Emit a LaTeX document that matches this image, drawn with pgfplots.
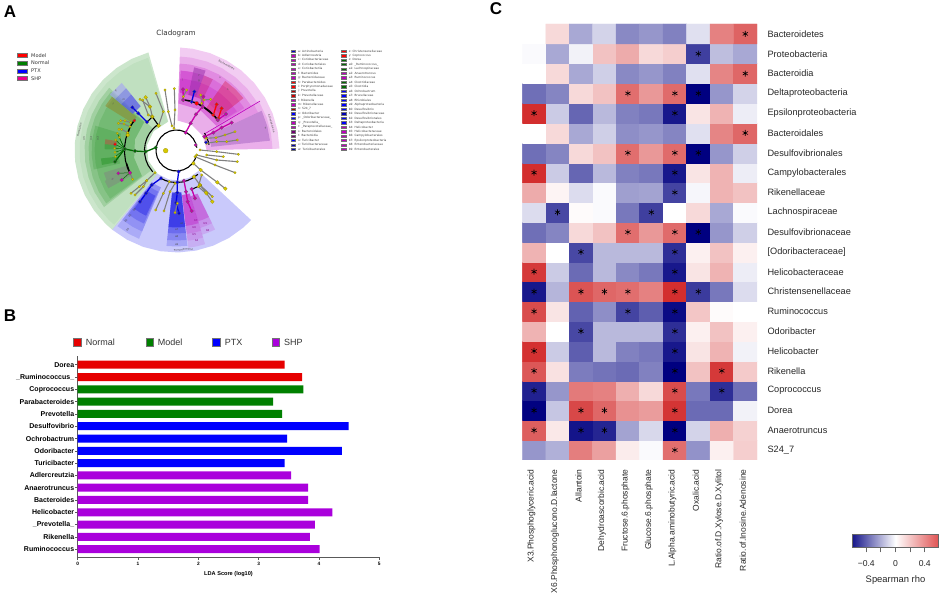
\documentclass[border=0pt]{standalone}
\usepackage{fontspec}
\setmainfont{Liberation Sans}
\newfontfamily\dv{DejaVu Sans}
\usepackage{pgfplots}
\pgfplotsset{compat=1.18}
\usepgfplotslibrary{polar}
\newcommand\fs[1]{\fontsize{#1}{#1}\selectfont}
\definecolor{cgreen}{RGB}{0,128,0}
\definecolor{cblue}{RGB}{40,40,240}
\definecolor{cmag}{RGB}{190,0,190}
\definecolor{ynode}{RGB}{214,200,0}
\definecolor{dgreen}{RGB}{0,105,0}
\definecolor{nblue}{RGB}{0,0,225}
\definecolor{nmag}{RGB}{200,0,170}
\definecolor{barred}{RGB}{230,0,0}
\definecolor{bargreen}{RGB}{0,128,0}
\definecolor{barblue}{RGB}{0,0,255}
\definecolor{barpur}{RGB}{170,0,220}
\pgfplotsset{
  colormap={rho}{rgb255=(0,0,128) rgb255=(255,255,255) rgb255=(208,32,32)},
  colormap={rhobar}{rgb255=(25,25,140) rgb255=(255,255,255) rgb255=(224,84,84)},
  sec/.style n args={2}{draw=none,fill=#1,fill opacity=#2,forget plot},
  arc/.style={black,line width=1.1pt,no markers,forget plot},
  stick/.style={draw=black!50,line width=1.1pt,mark=*,mark size=1.25pt,mark options={fill=ynode,draw=ynode!70!black,line width=.2pt},forget plot},
  sbig/.style={stick,mark size=1.9pt},
  blk/.style={draw=black,line width=1pt,no markers,forget plot},
  fan/.style={draw=dgreen,line width=0.5pt,mark=*,mark size=1.1pt,mark options={fill=ynode,draw=ynode!70!black,line width=.2pt},forget plot},
  clade/.style n args={2}{draw=#1,line width=1.3pt,mark=*,mark size=1.9pt,mark options={fill=#2,draw=black!60,line width=.2pt},forget plot},
}
\newcommand\sw[5]{\addplot[only marks,forget plot,mark=square*,mark size=#4pt,mark options={xscale=#5,fill=#1,draw=black!55,line width=.25pt}] coordinates {(#2,#3)};}
\newcommand\lgd[4]{\sw{#1}{#2}{#3}{1.2}{1.9}\node[anchor=west,inner sep=0pt,text=black!75] at (axis cs:#2+5,#3) {\dv\fs{2.9}#4};}
\newcommand\lab[4][0]{\node[rotate=#1,inner sep=0pt,text=#2] at (axis cs:#3) {\dv\fs{2.6}#4};}
\begin{document}
\begin{tikzpicture}[x=1pt,y=1pt]
\useasboundingbox (0,0) rectangle (942,596);

% panel A, wedges in polar coordinates (angle, radius in px)
\begin{polaraxis}[scale only axis,width=206pt,height=206pt,at={(176.5pt,445.5pt)},anchor=center,
  hide axis,xmin=0,xmax=360,ymin=0,ymax=103,clip=false]
% green, Firmicutes
\addplot[sec={cgreen}{.2}] coordinates {(106,102)(116,102)(126,102)(136,102)(146,102)(156,102)(166,102)(176,102)(186,102)(196,102)(206,102)(216,102)(226,102)(231,102)(231,30)(200,30)(170,30)(140,30)(106,30)} --cycle;
\addplot[sec={cgreen}{.06}] coordinates {(107,97)(116,97)(126,97)(136,97)(146,97)(156,97)(166,97)(176,97)(186,97)(196,97)(206,97)(216,97)(226,97)(230,97)(230,30)(200,30)(170,30)(140,30)(107,30)} --cycle;
\addplot[sec={cgreen}{.16}] coordinates {(137,92)(147,92)(157,92)(167,92)(177,92)(187,92)(197,92)(207,92)(218,92)(218,33)(190,33)(165,33)(137,33)} --cycle;
\addplot[sec={cgreen}{.16}] coordinates {(138,88)(148,88)(158,88)(168,88)(178,88)(188,88)(198,88)(208,88)(217,88)(217,43)(190,43)(165,43)(138,43)} --cycle;
\addplot[sec={cgreen}{.14}] coordinates {(139,82)(149,82)(159,82)(169,82)(179,82)(189,82)(199,82)(209,82)(216,82)(216,43)(190,43)(165,43)(139,43)} --cycle;
\addplot[sec={cgreen}{.16}] coordinates {(163,85)(173,85)(183,85)(193,85)(193,58)(183,58)(173,58)(163,58)} --cycle;
\addplot[sec={olive!70!gray}{.55}] coordinates {(140,84)(148,84)(148,52)(140,52)} --cycle;
\addplot[sec={red!60!gray}{.4}] coordinates {(171,72)(175,72)(175,60)(171,60)} --cycle;
\addplot[sec={cgreen}{.25}] coordinates {(175,72)(179,72)(179,60)(175,60)} --cycle;
\addplot[sec={cgreen}{.3}] coordinates {(186,76)(191,76)(191,60)(186,60)} --cycle;
\addplot[sec={gray}{.45}] coordinates {(197,76)(203,76)(203,52)(197,52)} --cycle;
\addplot[sec={gray}{.45}] coordinates {(203,78)(209,78)(209,52)(203,52)} --cycle;
\addplot[sec={white}{.5}] coordinates {(129,87)(140,87)(140,57)(129,57)} --cycle;
\addplot[sec={nblue}{.22}] coordinates {(129,87)(140,87)(140,57)(129,57)} --cycle;
\addplot[sec={nblue}{.18}] coordinates {(129,80)(140,80)(140,57)(129,57)} --cycle;
\addplot[sec={nblue}{.2}] coordinates {(129,72)(140,72)(140,57)(129,57)} --cycle;
% pink, Bacteroidetes and Actinobacteria
\addplot[sec={cmag}{.2}] coordinates {(1,103)(11,103)(21,103)(31,103)(41,103)(51,103)(61,103)(71,103)(81,103)(88,103)(88,30)(60,30)(30,30)(1,30)} --cycle;
\addplot[sec={cmag}{.15}] coordinates {(31,94)(41,94)(51,94)(61,94)(71,94)(81,94)(88,94)(88,30)(60,30)(31,30)} --cycle;
\addplot[sec={cmag}{.2}] coordinates {(31,87)(41,87)(51,87)(61,87)(71,87)(81,87)(88,87)(88,47)(60,47)(31,47)} --cycle;
\addplot[sec={cmag}{.2}] coordinates {(32,80)(42,80)(52,80)(62,80)(72,80)(82,80)(87,80)(87,47)(60,47)(32,47)} --cycle;
\addplot[sec={cmag}{.22}] coordinates {(33,72)(43,72)(53,72)(63,72)(73,72)(83,72)(87,72)(87,58)(60,58)(33,58)} --cycle;
\addplot[sec={red!85!blue}{.32}] coordinates {(38,85)(46,85)(55,85)(55,50)(46,50)(38,50)} --cycle;
\addplot[sec={red!75!blue}{.25}] coordinates {(63,80)(70,80)(70,57)(63,57)} --cycle;
\addplot[sec={blue!55!red}{.35}] coordinates {(70,85)(78,85)(78,57)(70,57)} --cycle;
\addplot[sec={cmag}{.22}] coordinates {(78,80)(87,80)(87,58)(78,58)} --cycle;
\addplot[sec={cmag}{.15}] coordinates {(1,96)(10,96)(20,96)(31,96)(31,30)(20,30)(10,30)(1,30)} --cycle;
\addplot[sec={cmag}{.15}] coordinates {(25,90)(31,90)(31,40)(25,40)} --cycle;
\addplot[sec={white}{.25}] coordinates {(6,94)(15,94)(25,94)(25,35)(15,35)(6,35)} --cycle;
\addplot[sec={blue!60!red}{.3}] coordinates {(6,94)(15,94)(25,94)(25,35)(15,35)(6,35)} --cycle;
\addplot[draw=cmag,line width=.6pt,no markers,forget plot] coordinates {(30.6,33)(30.6,97)};
% blue, Proteobacteria
\addplot[sec={cblue}{.25}] coordinates {(231,102)(241,102)(251,102)(261,102)(271,102)(281,102)(291,102)(301,102)(311,102)(317,102)(317,30)(295,30)(275,30)(255,30)(231,30)} --cycle;
\addplot[sec={nblue}{.15}] coordinates {(232,96)(240,96)(247,96)(247,40)(240,40)(232,40)} --cycle;
\addplot[sec={nblue}{.15}] coordinates {(232,88)(240,88)(247,88)(247,40)(240,40)(232,40)} --cycle;
\addplot[sec={nblue}{.2}] coordinates {(233,80)(240,80)(246,80)(246,45)(240,45)(233,45)} --cycle;
\addplot[sec={nblue}{.3}] coordinates {(234,72)(240,72)(245,72)(245,50)(240,50)(234,50)} --cycle;
\addplot[sec={nblue}{.18}] coordinates {(264,96)(270,96)(276.5,96)(276.5,42)(264,42)} --cycle;
\addplot[sec={nblue}{.18}] coordinates {(264,90)(270,90)(276.5,90)(276.5,42)(264,42)} --cycle;
\addplot[sec={nblue}{.2}] coordinates {(264,83)(270,83)(276.5,83)(276.5,42)(264,42)} --cycle;
\addplot[sec={nblue}{.42}] coordinates {(264,77)(270,77)(276.5,77)(276.5,43)(264,43)} --cycle;
\addplot[sec={cmag}{.13}] coordinates {(277,98)(282,98)(287,98)(287,45)(277,45)} --cycle;
\addplot[sec={cmag}{.13}] coordinates {(277,91)(282,91)(287,91)(287,45)(277,45)} --cycle;
\addplot[sec={cmag}{.16}] coordinates {(277,84)(282,84)(287,84)(287,45)(277,45)} --cycle;
\addplot[sec={cmag}{.32}] coordinates {(277,76)(282,76)(287,76)(287,45)(277,45)} --cycle;
\addplot[sec={cmag}{.15}] coordinates {(287,88)(291,88)(296,88)(296,48)(287,48)} --cycle;
\addplot[sec={cmag}{.15}] coordinates {(287,81)(291,81)(296,81)(296,48)(287,48)} --cycle;
\addplot[sec={cmag}{.25}] coordinates {(287,74)(291,74)(296,74)(296,48)(287,48)} --cycle;
% black arcs of the tree
\addplot[arc] coordinates {(8,20.5)(20,20.5)(35,20.5)(50,20.5)(65,20.5)(80,20.5)(95,20.5)(110,20.5)(125,20.5)(140,20.5)(155,20.5)(170,20.5)(185,20.5)(200,20.5)(215,20.5)(230,20.5)(245,20.5)(260,20.5)(275,20.5)(290,20.5)(305,20.5)(320,20.5)(335,20.5)(350,20.5)};
\addplot[arc] coordinates {(128,32)(138,32)(148,32)(158,32)(168,32)(178,32)(188,32)(198,32)(208,32)(222,32)};
\addplot[arc] coordinates {(143,52)(151,52)(159,52)(167,52)(175,52)(183,52)(191,52)(199,52)(206,52)};
\addplot[arc] coordinates {(240,32)(250,32)(260,32)(270,32)(280,32)(290,32)(300,32)(312,32)};
\addplot[arc] coordinates {(35,51.5)(43,51.5)(51,51.5)(59,51.5)(67,51.5)(75,51.5)(84,51.5)};
\addplot[arc] coordinates {(10,33)(16,33)(22,33)(32,33)};
\end{polaraxis}

% panel A, tree branches, in 3x crop coordinates
\begin{axis}[scale only axis,width=280pt,height=290pt,at={(0pt,306pt)},anchor=south west,
  hide axis,xmin=0,xmax=840,ymin=0,ymax=870,y dir=reverse,clip=false]
\addplot[stick] coordinates {(516,378)(505,335)(495,270)};
\addplot[stick] coordinates {(522,385)(525,330)(523,266)};
\addplot[stick] coordinates {(476,377)(490,335)(468,280)};
\addplot[sbig] coordinates {(476,377)(457,350)(450,320)(437,292)};
\addplot[stick] coordinates {(457,350)(445,345)(428,300)};
\addplot[stick] coordinates {(450,320)(420,298)};
\addplot[blk] coordinates {(440,368)(457,350)(476,377)};
\addplot[clade={nblue}{nblue}] coordinates {(441,366)(415,340)(397,322)};
\addplot[blk] coordinates {(403,362)(390,380)(383,405)};
\addplot[only marks,mark=*,mark size=1.6pt,mark options={fill=red,draw=black!60,line width=.2pt},forget plot] coordinates {(403,362)};
\addplot[stick] coordinates {(390,380)(372,372)(355,370)};
\addplot[stick] coordinates {(383,398)(365,388)(357,388)};
\addplot[stick] coordinates {(392,368)(375,362)(362,362)};
\addplot[sbig] coordinates {(383,405)(383,405)};
% green spine and fan
\addplot[fan] coordinates {(374,447)(345,433)};
\addplot[fan] coordinates {(374,447)(347,420)};
\addplot[fan] coordinates {(374,447)(344,445)};
\addplot[fan] coordinates {(374,447)(345,457)};
\addplot[fan] coordinates {(374,447)(346,470)};
\addplot[fan] coordinates {(374,447)(352,400)};
\addplot[fan] coordinates {(374,447)(358,412)};
\addplot[only marks,mark=*,mark size=1.8pt,mark options={fill=red,draw=black!60,line width=.2pt},forget plot] coordinates {(345,433)};
\addplot[clade={dgreen}{dgreen}] coordinates {(374,447)(345,485)};
\addplot[clade={dgreen}{dgreen}] coordinates {(467,443)(437,455)(405,453)(374,447)};
\addplot[only marks,mark=*,mark size=2.4pt,mark options={fill=ynode,draw=ynode!70!black,line width=.2pt},forget plot] coordinates {(497,452)};
\addplot[blk] coordinates {(380,490)(390,518)};
\addplot[stick] coordinates {(390,518)(398,538)};
\addplot[only marks,mark=*,mark size=1.9pt,mark options={fill=ynode,draw=ynode!70!black,line width=.2pt},forget plot] coordinates {(390,518)};
\addplot[draw=dgreen,line width=.5pt,mark=*,mark size=1.7pt,mark options={fill=nmag,draw=black!60,line width=.2pt},forget plot] coordinates {(390,518)(355,520)};
\addplot[draw=dgreen,line width=.5pt,mark=*,mark size=1.9pt,mark options={fill=nmag,draw=black!60,line width=.2pt},forget plot] coordinates {(390,518)(365,540)};
% bottom
\addplot[clade={nblue}{nblue}] coordinates {(536,515)(532,547)(532,578)(528,608)(537,640)};
\addplot[clade={nmag}{nmag}] coordinates {(552,542)(558,575)(563,605)(575,633)};
\addplot[clade={nblue}{nblue}] coordinates {(483,535)(455,555)(438,580)(420,605)};
\addplot[stick] coordinates {(465,518)(440,542)(418,560)(393,580)};
\addplot[stick] coordinates {(440,542)(430,560)(405,585)};
\addplot[stick] coordinates {(508,545)(490,580)(467,630)};
\addplot[stick] coordinates {(525,550)(510,575)(492,633)};
\addplot[stick] coordinates {(532,610)(525,638)};
\addplot[clade={nmag}{nmag}] coordinates {(575,567)(585,595)};
\addplot[sbig] coordinates {(582,530)(600,555)(618,578)(637,605)};
\addplot[stick] coordinates {(600,555)(637,590)};
\addplot[blk] coordinates {(575,568)(605,555)};
\addplot[stick] coordinates {(605,525)(595,560)(620,582)};
\addplot[sbig] coordinates {(580,490)(602,510)(652,547)(676,566)};
\addplot[stick] coordinates {(585,470)(645,495)(705,518)};
\addplot[stick] coordinates {(590,465)(650,480)(712,485)};
\addplot[stick] coordinates {(600,450)(650,455)(715,463)};
\addplot[stick] coordinates {(620,465)(670,470)};
% top right
\addplot[stick] coordinates {(618,415)(648,413)(675,405)(705,395)};
\addplot[stick] coordinates {(620,430)(650,425)(680,425)(712,420)};
\addplot[clade={nmag}{nmag}] coordinates {(613,410)(640,398)(665,383)(695,368)};
\addplot[only marks,mark=*,mark size=1.7pt,mark options={fill=nblue,draw=black!60,line width=.2pt},forget plot] coordinates {(618,427)};
\addplot[only marks,mark=*,mark size=1.7pt,mark options={fill=nmag,draw=black!60,line width=.2pt},forget plot] coordinates {(587,435)};
\addplot[clade={nmag}{nmag}] coordinates {(557,398)(572,370)(588,343)(608,320)};
\addplot[clade={nmag}{nmag}] coordinates {(549,268)(550,300)};
\addplot[clade={nblue}{nblue}] coordinates {(583,275)(575,305)};
\addplot[blk] coordinates {(550,300)(575,305)(590,310)(608,320)(640,345)(653,360)};
\addplot[clade={red}{red}] coordinates {(640,345)(650,313)};
\addplot[clade={red}{red}] coordinates {(655,355)(665,325)};
\addplot[clade={nmag}{nmag}] coordinates {(653,360)(678,342)};
\addplot[clade={nmag}{nmag}] coordinates {(608,320)(610,290)};
\addplot[stick] coordinates {(550,290)(560,270)};
\addplot[stick] coordinates {(612,300)(632,298)};
\addplot[stick] coordinates {(605,310)(602,285)};
\addplot[only marks,mark=*,mark size=2pt,mark options={fill=red,draw=black!60,line width=.2pt},forget plot] coordinates {(590,310)};
\addplot[only marks,mark=*,mark size=1.7pt,mark options={fill=nblue,draw=black!60,line width=.2pt},forget plot] coordinates {(575,305)};
\addplot[only marks,mark=*,mark size=1.7pt,mark options={fill=nmag,draw=black!60,line width=.2pt},forget plot] coordinates {(550,300)(608,320)(653,360)};
% clade names and block letters
\lab[-30]{black!70}{680,195}{Bacteroidetes}
\lab[-74]{black!70}{815,370}{Actinobacteria}
\lab[78]{black!70}{238,390}{Firmicutes}
\lab[184]{black!70}{550,750}{Proteobacteria}
\lab[78]{black!70}{252,415}{a5}
\lab[78]{black!70}{273,415}{a4}
\lab[78]{black!70}{293,415}{a3}
\lab[-45]{cmag!70!black}{338,538}{z}
\lab[-20]{black!70}{797,384}{a}
\lab[-30]{black!70}{340,313}{t}
\lab[0]{black!70}{347,272}{q}
\lab[0]{black!70}{372,300}{m}
\lab[50]{black!70}{403,630}{b0}
\lab[50]{black!70}{390,648}{b1}
\lab[50]{black!70}{378,663}{b2}
\lab[50]{black!70}{383,690}{b3}
\lab[0]{black!70}{545,670}{a6}
\lab[0]{black!70}{530,690}{a7}
\lab[0]{black!70}{530,710}{a8}
\lab[0]{black!70}{530,733}{a9}
\lab[0]{cmag!70!black}{588,662}{b7}
\lab[0]{cmag!70!black}{583,684}{b6}
\lab[0]{cmag!70!black}{583,705}{b5}
\lab[0]{cmag!70!black}{590,723}{b4}
\lab[0]{cmag!70!black}{616,672}{b9}
\lab[0]{cmag!70!black}{623,691}{b8}
\lab[0]{black!70}{548,238}{j}
\lab[0]{black!70}{597,228}{f}
\lab[0]{black!70}{597,243}{g}
\lab[0]{black!70}{683,270}{n}
\lab[0]{black!70}{660,232}{s}
\end{axis}

% panel B
\begin{axis}[scale only axis,width=301.6pt,height=201.3pt,at={(77.7pt,38.7pt)},anchor=south west,
  xbar,bar width=8pt,bar shift=0pt,xmin=0,xmax=5,ymin=-0.66,ymax=15.71,
  axis x line*=bottom,axis y line*=left,
  axis line style={black!65,line width=1pt},
  tick style={black!65,line width=.6pt},major tick length=2.5pt,tick align=outside,
  xtick={0,1,2,3,4,5},xticklabels={0,1,2,3,4,5},
  xticklabel style={font=\bfseries\fs{4.8},yshift=1pt},
  ytick={0,1,2,3,4,5,6,7,8,9,10,11,12,13,14,15},
  yticklabels={Ruminococcus,Rikenella,\_Prevotella\_,Helicobacter,Bacteroides,Anaerotruncus,Adlercreutzia,Turicibacter,Odoribacter,Ochrobactrum,Desulfovibrio,Prevotella,Parabacteroides,Coprococcus,\_Ruminococcus\_,Dorea},
  yticklabel style={font=\bfseries\fs{7},xshift=2.5pt},
  xlabel={LDA Score (log10)},xlabel style={font=\bfseries\fs{5.6},yshift=1pt}]
\addplot[fill=barpur,draw=none] coordinates {(4.01,0)(3.85,1)(3.93,2)(4.22,3)(3.82,4)(3.82,5)(3.54,6)};
\addplot[fill=barblue,draw=none] coordinates {(3.43,7)(4.38,8)(3.47,9)(4.49,10)};
\addplot[fill=bargreen,draw=none] coordinates {(3.39,11)(3.24,12)(3.74,13)};
\addplot[fill=barred,draw=none] coordinates {(3.72,14)(3.43,15)};
\end{axis}

% panel C
\begin{axis}[scale only axis,width=234.7pt,height=436pt,at={(522.3pt,136pt)},anchor=south west,
  colormap name=rho,point meta min=-0.585,point meta max=0.585,
  xmin=-0.5,xmax=9.5,ymin=-0.5,ymax=21.5,
  axis line style={draw=none},tick style={draw=none},major tick length=0pt,
  xtick={0,1,2,3,4,5,6,7,8,9},
  xticklabels={X3.Phosphoglyceric.acid,X6.Phosphonoglucono.D.lactone,Allantoin,Dehydroascorbic.acid,Fructose.6.phosphate,Glucose.6.phosphate,L.Alpha.aminobutyric.acid,Oxalic.acid,Ratio.of.D.Xylose.D.Xylitol,Ratio.of.Inosine.Adenosine},
  xticklabel style={rotate=90,anchor=east,font=\fs{8.5},text=black!85,yshift=2.5pt,xshift=-6pt},
  ytick={0,1,2,3,4,5,6,7,8,9,10,11,12,13,14,15,16,17,18,19,20,21},
  yticklabels={S24\_7,Anaerotruncus,Dorea,Coprococcus,Rikenella,Helicobacter,Odoribacter,Ruminococcus,Christensenellaceae,Helicobacteraceae,{[Odoribacteraceae]},Desulfovibrionaceae,Lachnospiraceae,Rikenellaceae,Campylobacterales,Desulfovibrionales,Bacteroidales,Epsilonproteobacteria,Deltaproteobacteria,Bacteroidia,Proteobacteria,Bacteroidetes},
  yticklabel pos=right,yticklabel style={anchor=west,font=\fs{9.2},text=black!85,xshift=7pt},
  colorbar horizontal,
  colorbar style={at={(1.4078,-0.1704)},anchor=north west,scale only axis,width=85.6pt,height=13pt,
    colormap name=rhobar,
    xtick={-0.4,-0.2,0,0.2,0.4},xticklabels={−0.4,,0,,0.4},
    xtick pos=bottom,xticklabel pos=bottom,
    xticklabel style={font=\fs{8.6},text=black!85,yshift=-5pt},
    axis line style={black!60,line width=.6pt},
    tick style={black!60,line width=.9pt,draw=black!60},major tick length=5pt,tick align=outside,
    xlabel={Spearman rho},xlabel style={font=\fs{9.4},text=black!85,yshift=-2pt}}]
\addplot[matrix plot*,mesh/cols=10,point meta=explicit] coordinates {
(0,0)[-.24] (1,0)[-.18] (2,0)[.34] (3,0)[.25] (4,0)[.05] (5,0)[-.01] (6,0)[.38] (7,0)[-.25] (8,0)[.04] (9,0)[.13]
(0,1)[.42] (1,1)[.06] (2,1)[-.54] (3,1)[-.5] (4,1)[-.21] (5,1)[-.09] (6,1)[-.59] (7,1)[-.1] (8,1)[.21] (9,1)[.12]
(0,2)[-.58] (1,2)[-.13] (2,2)[.48] (3,2)[.4] (4,2)[.29] (5,2)[.26] (6,2)[.53] (7,2)[-.34] (8,2)[-.34] (9,2)[-.03]
(0,3)[-.51] (1,3)[-.24] (2,3)[.35] (3,3)[.33] (4,3)[.21] (5,3)[.1] (6,3)[.47] (7,3)[-.31] (8,3)[-.48] (9,3)[-.33]
(0,4)[.44] (1,4)[.08] (2,4)[-.3] (3,4)[-.32] (4,4)[-.34] (5,4)[-.29] (6,4)[-.6] (7,4)[.16] (8,4)[.52] (9,4)[.14]
(0,5)[.54] (1,5)[-.12] (2,5)[-.37] (3,5)[-.16] (4,5)[-.29] (5,5)[-.31] (6,5)[-.53] (7,5)[.07] (8,5)[.2] (9,5)[-.03]
(0,6)[.2] (1,6)[0] (2,6)[-.42] (3,6)[-.16] (4,6)[-.16] (5,6)[-.16] (6,6)[-.48] (7,6)[.04] (8,6)[.16] (9,6)[.04]
(0,7)[.47] (1,7)[.07] (2,7)[-.36] (3,7)[-.26] (4,7)[-.43] (5,7)[-.37] (6,7)[-.56] (7,7)[.15] (8,7)[.01] (9,7)[0]
(0,8)[-.53] (1,8)[-.17] (2,8)[.45] (3,8)[.4] (4,8)[.38] (5,8)[.33] (6,8)[.55] (7,8)[-.45] (8,8)[-.31] (9,8)[-.08]
(0,9)[.52] (1,9)[-.12] (2,9)[-.34] (3,9)[-.16] (4,9)[-.27] (5,9)[-.31] (6,9)[-.53] (7,9)[.07] (8,9)[.2] (9,9)[-.04]
(0,10)[.2] (1,10)[0] (2,10)[-.42] (3,10)[-.16] (4,10)[-.16] (5,10)[-.16] (6,10)[-.48] (7,10)[.04] (8,10)[.16] (9,10)[.04]
(0,11)[-.33] (1,11)[-.28] (2,11)[.1] (3,11)[.16] (4,11)[.38] (5,11)[.27] (6,11)[.39] (7,11)[-.59] (8,11)[-.24] (9,11)[-.11]
(0,12)[-.08] (1,12)[-.42] (2,12)[.01] (3,12)[-.01] (4,12)[-.31] (5,12)[-.44] (6,12)[0] (7,12)[.1] (8,12)[-.2] (9,12)[-.01]
(0,13)[.22] (1,13)[.03] (2,13)[-.08] (3,13)[-.01] (4,13)[-.22] (5,13)[-.21] (6,13)[-.43] (7,13)[-.02] (8,13)[.2] (9,13)[.16]
(0,14)[.55] (1,14)[-.12] (2,14)[-.35] (3,14)[-.16] (4,14)[-.29] (5,14)[-.31] (6,14)[-.53] (7,14)[.07] (8,14)[.2] (9,14)[-.04]
(0,15)[-.33] (1,15)[-.28] (2,15)[.1] (3,15)[.16] (4,15)[.38] (5,15)[.27] (6,15)[.39] (7,15)[-.59] (8,15)[-.24] (9,15)[-.11]
(0,16)[0] (1,16)[.1] (2,16)[-.2] (3,16)[-.11] (4,16)[-.26] (5,16)[-.24] (6,16)[-.28] (7,16)[-.07] (8,16)[.32] (9,16)[.4]
(0,17)[.55] (1,17)[-.12] (2,17)[-.35] (3,17)[-.16] (4,17)[-.29] (5,17)[-.31] (6,17)[-.53] (7,17)[.07] (8,17)[.2] (9,17)[-.04]
(0,18)[-.33] (1,18)[-.28] (2,18)[.1] (3,18)[.16] (4,18)[.38] (5,18)[.27] (6,18)[.39] (7,18)[-.6] (8,18)[-.24] (9,18)[-.1]
(0,19)[0] (1,19)[.1] (2,19)[-.2] (3,19)[-.11] (4,19)[-.27] (5,19)[-.24] (6,19)[-.29] (7,19)[-.07] (8,19)[.32] (9,19)[.4]
(0,20)[-.01] (1,20)[-.2] (2,20)[-.03] (3,20)[.16] (4,20)[.22] (5,20)[.1] (6,20)[.13] (7,20)[-.44] (8,20)[-.15] (9,20)[-.2]
(0,21)[0] (1,21)[.1] (2,21)[-.2] (3,21)[-.1] (4,21)[-.27] (5,21)[-.24] (6,21)[-.29] (7,21)[-.07] (8,21)[.33] (9,21)[.41]
};
\addplot[only marks,mark=asterisk,mark size=3pt,mark options={black,line width=.6pt}] coordinates {
(9,21) (7,20) (9,19) (4,18)(6,18)(7,18) (0,17)(6,17) (9,16) (4,15)(6,15)(7,15) (0,14)(6,14) (6,13)
(1,12)(5,12) (4,11)(6,11)(7,11) (2,10)(6,10) (0,9)(6,9) (0,8)(2,8)(3,8)(4,8)(6,8)(7,8) (0,7)(4,7)(6,7)
(2,6)(6,6) (0,5)(6,5) (0,4)(6,4)(8,4) (0,3)(6,3)(8,3) (0,2)(2,2)(3,2)(6,2) (0,1)(2,1)(3,1)(6,1) (6,0)};
\end{axis}

% texts and legends, in image pixels
\begin{axis}[scale only axis,width=942pt,height=596pt,at={(0pt,0pt)},anchor=south west,
  hide axis,xmin=0,xmax=942,ymin=0,ymax=596,y dir=reverse,clip=false]
\node[inner sep=0pt,font=\bfseries\fs{17}] at (axis cs:10,12) {A};
\node[inner sep=0pt,font=\bfseries\fs{17}] at (axis cs:10,316) {B};
\node[inner sep=0pt,font=\bfseries\fs{17}] at (axis cs:496,9) {C};
\node[inner sep=0pt,text=black!80] at (axis cs:176,33.5) {\dv\fs{7.2}Cladogram};
\sw{red}{22}{55.3}{2}{2.4}
\sw{cgreen}{22}{63}{2}{2.4}
\sw{blue}{22}{70.7}{2}{2.4}
\sw{magenta}{22}{78.3}{2}{2.4}
\node[anchor=west,inner sep=0pt,text=black!80] at (axis cs:31,55.3) {\dv\fs{5}Model};
\node[anchor=west,inner sep=0pt,text=black!80] at (axis cs:31,63) {\dv\fs{5}Normal};
\node[anchor=west,inner sep=0pt,text=black!80] at (axis cs:31,70.7) {\dv\fs{5}PTX};
\node[anchor=west,inner sep=0pt,text=black!80] at (axis cs:31,78.3) {\dv\fs{5}SHP};
\lgd{blue!80!black}{293}{51}{a: Actinobacteria}
\lgd{cmag}{293}{55.5}{b: Adlercreutzia}
\lgd{cmag}{293}{59.9}{c: Coriobacteriaceae}
\lgd{cmag}{293}{64.4}{d: Coriobacteriales}
\lgd{cmag}{293}{68.9}{e: Coriobacteriia}
\lgd{cmag}{293}{73.4}{f: Bacteroides}
\lgd{cmag}{293}{77.8}{g: Bacteroidaceae}
\lgd{red}{293}{82.3}{h: Parabacteroides}
\lgd{red}{293}{86.8}{i: Porphyromonadaceae}
\lgd{red!70!black}{293}{91.2}{j: Prevotella}
\lgd{red!80!black}{293}{95.7}{k: Prevotellaceae}
\lgd{cmag}{293}{100.2}{l: Rikenella}
\lgd{cmag}{293}{104.6}{m: Rikenellaceae}
\lgd{red!70!black}{293}{109.1}{n: S24\_7}
\lgd{blue}{293}{113.6}{o: Odoribacter}
\lgd{blue}{293}{118.1}{p: \_Odoribacteraceae\_}
\lgd{cmag}{293}{122.5}{q: \_Prevotella\_}
\lgd{cmag}{293}{127}{r: \_Paraprevotellaceae\_}
\lgd{cmag!60!black}{293}{131.5}{s: Bacteroidales}
\lgd{cmag!60!black}{293}{135.9}{t: Bacteroidia}
\lgd{blue}{293}{140.4}{u: Turicibacter}
\lgd{blue!70!black}{293}{144.9}{v: Turicibacteraceae}
\lgd{blue!70!black}{293}{149.3}{w: Turicibacterales}
\lgd{red}{343.6}{51}{x: Christensenellaceae}
\lgd{red}{343.6}{55.5}{y: Coprococcus}
\lgd{dgreen}{343.6}{59.9}{z: Dorea}
\lgd{dgreen}{343.6}{64.4}{a0: \_Ruminococcus\_}
\lgd{dgreen}{343.6}{68.9}{a1: Lachnospiraceae}
\lgd{cmag}{343.6}{73.4}{a2: Anaerotruncus}
\lgd{cmag}{343.6}{77.8}{a3: Ruminococcus}
\lgd{dgreen}{343.6}{82.3}{a4: Clostridiaceae}
\lgd{dgreen}{343.6}{86.8}{a5: Clostridia}
\lgd{blue}{343.6}{91.2}{a6: Ochrobactrum}
\lgd{blue}{343.6}{95.7}{a7: Brucellaceae}
\lgd{blue}{343.6}{100.2}{a8: Rhizobiales}
\lgd{blue}{343.6}{104.6}{a9: Alphaproteobacteria}
\lgd{blue}{343.6}{109.1}{b0: Desulfovibrio}
\lgd{blue!70!black}{343.6}{113.6}{b1: Desulfovibrionaceae}
\lgd{blue}{343.6}{118.1}{b2: Desulfovibrionales}
\lgd{blue}{343.6}{122.5}{b3: Deltaproteobacteria}
\lgd{cmag}{343.6}{127}{b4: Helicobacter}
\lgd{cmag}{343.6}{131.5}{b5: Helicobacteraceae}
\lgd{cmag}{343.6}{135.9}{b6: Campylobacterales}
\lgd{cmag}{343.6}{140.4}{b7: Epsilonproteobacteria}
\lgd{cmag}{343.6}{144.9}{b8: Enterobacteriaceae}
\lgd{cmag}{343.6}{149.3}{b9: Enterobacterales}
\sw{barred}{77.2}{342}{3.7}{1}
\sw{bargreen}{149.5}{342}{3.7}{1}
\sw{barblue}{216}{342}{3.7}{1}
\sw{barpur}{275.7}{342}{3.7}{1}
\node[anchor=west,inner sep=0pt,text=black!80] at (axis cs:85.7,342) {\fs{9}Normal};
\node[anchor=west,inner sep=0pt,text=black!80] at (axis cs:157.7,342) {\fs{9}Model};
\node[anchor=west,inner sep=0pt,text=black!80] at (axis cs:224.7,342) {\fs{9}PTX};
\node[anchor=west,inner sep=0pt,text=black!80] at (axis cs:284,342) {\fs{9}SHP};
\end{axis}
\end{tikzpicture}
\end{document}
